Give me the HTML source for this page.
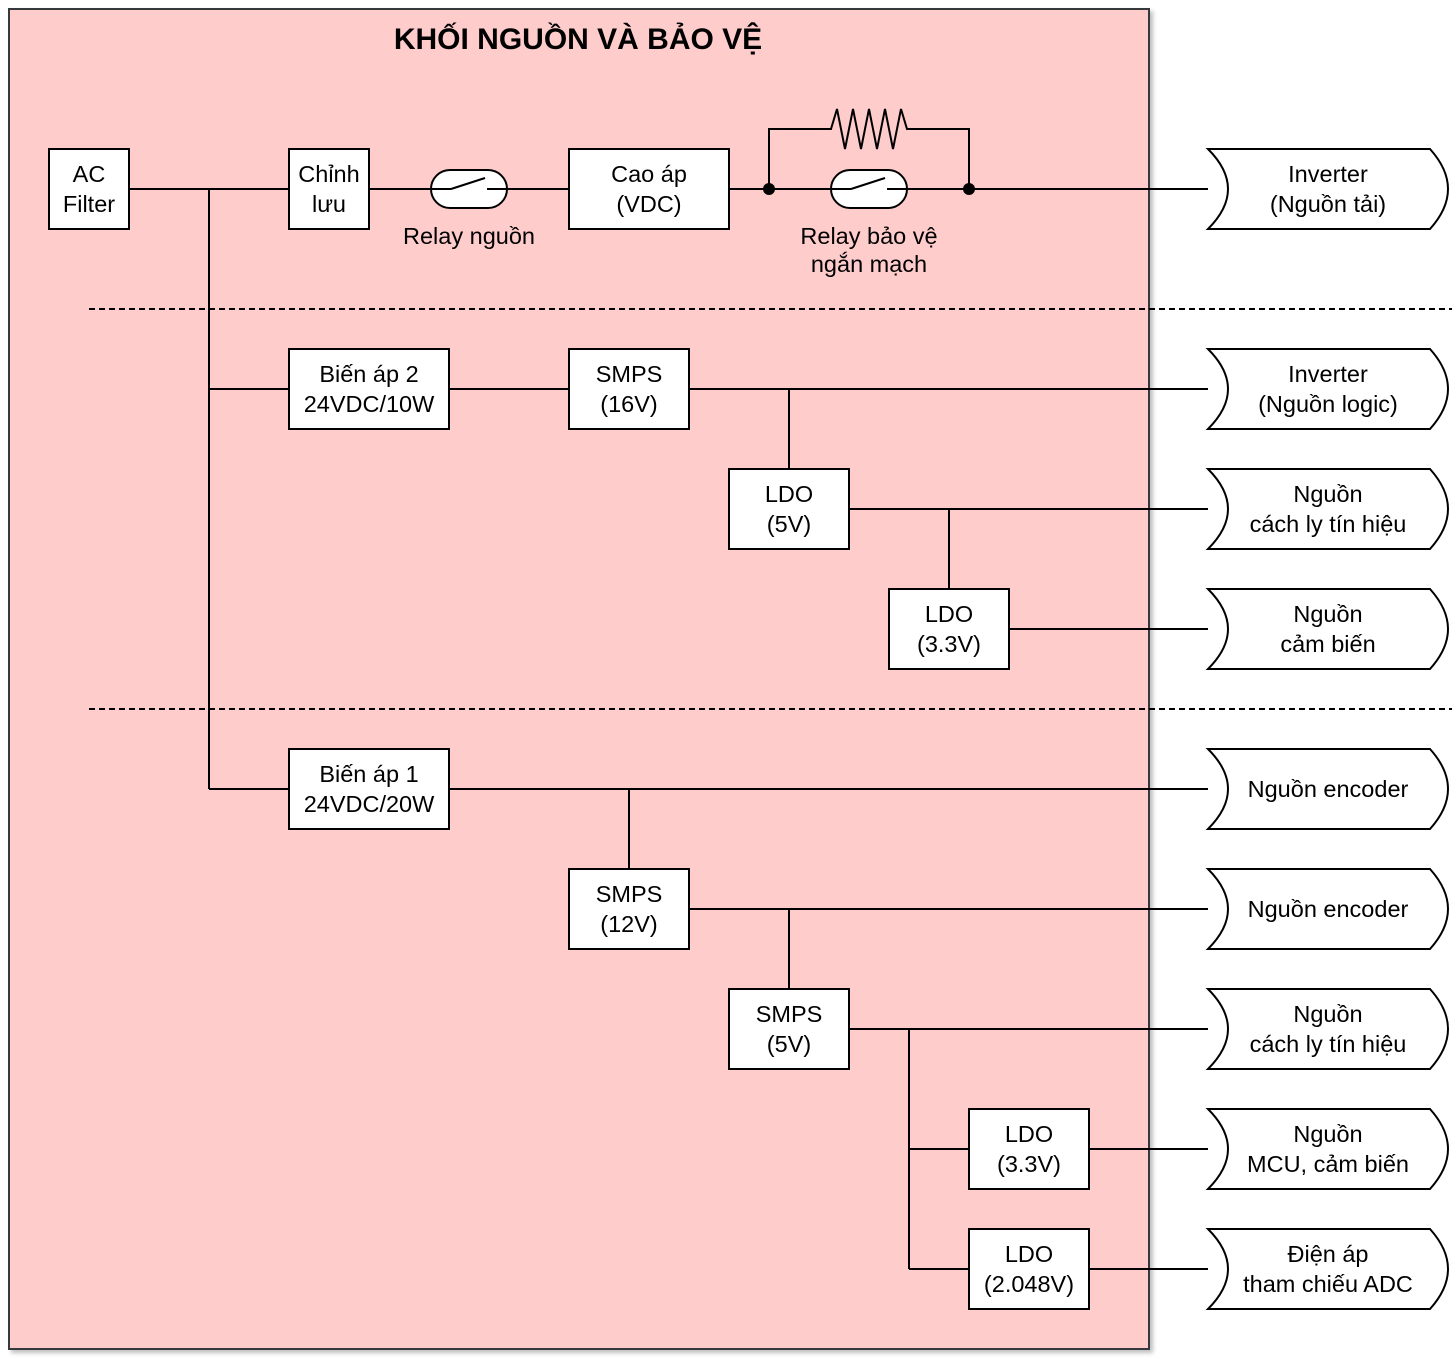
<!DOCTYPE html>
<html><head><meta charset="utf-8"><style>
html,body{margin:0;padding:0;background:#fff;}
svg text{font-family:"Liberation Sans",sans-serif;font-size:23.5px;fill:#000;}
</style></head><body>
<svg width="1452" height="1364" viewBox="0 0 1452 1364" xmlns="http://www.w3.org/2000/svg">
<defs><filter id="sh" x="-5%" y="-5%" width="110%" height="110%"><feDropShadow dx="3" dy="3" stdDeviation="2" flood-color="#000" flood-opacity="0.25"/></filter></defs>
<rect x="9" y="9" width="1140" height="1340" fill="#ffcccc" stroke="#36393d" stroke-width="2" filter="url(#sh)"/>
<text x="578" y="49" text-anchor="middle" style="font-size:30px;font-weight:bold">KHỐI NGUỒN VÀ BẢO VỆ</text>
<g stroke="#000" stroke-width="2" fill="none">
<line x1="89" y1="309" x2="1452" y2="309" stroke-dasharray="6,4"/>
<line x1="89" y1="709" x2="1452" y2="709" stroke-dasharray="6,4"/>
<line x1="129" y1="189" x2="289" y2="189"/>
<line x1="369" y1="189" x2="569" y2="189"/>
<line x1="729" y1="189" x2="1208" y2="189"/>
<polyline points="769,189 769,129 831,129 837,109 845,149 853,109 861,149 869,109 877,149 885,109 893,149 901,109 907,129 969,129 969,189"/>
<line x1="209" y1="189" x2="209" y2="789"/>
<line x1="209" y1="389" x2="289" y2="389"/>
<line x1="449" y1="389" x2="569" y2="389"/>
<line x1="689" y1="389" x2="1208" y2="389"/>
<line x1="789" y1="389" x2="789" y2="469"/>
<line x1="849" y1="509" x2="1208" y2="509"/>
<line x1="949" y1="509" x2="949" y2="589"/>
<line x1="1009" y1="629" x2="1208" y2="629"/>
<line x1="209" y1="789" x2="289" y2="789"/>
<line x1="449" y1="789" x2="1208" y2="789"/>
<line x1="629" y1="789" x2="629" y2="869"/>
<line x1="689" y1="909" x2="1208" y2="909"/>
<line x1="789" y1="909" x2="789" y2="989"/>
<line x1="849" y1="1029" x2="1208" y2="1029"/>
<line x1="909" y1="1029" x2="909" y2="1269"/>
<line x1="909" y1="1149" x2="969" y2="1149"/>
<line x1="909" y1="1269" x2="969" y2="1269"/>
<line x1="1089" y1="1149" x2="1208" y2="1149"/>
<line x1="1089" y1="1269" x2="1208" y2="1269"/>
</g>
<circle cx="769" cy="189" r="6" fill="#000"/>
<circle cx="969" cy="189" r="6" fill="#000"/>
<g stroke="#000" stroke-width="2">
<rect x="431" y="170" width="76" height="38" rx="19" fill="#fff"/>
<line x1="431" y1="189" x2="451" y2="189"/><line x1="451" y1="189" x2="485" y2="178"/><line x1="487" y1="189" x2="507" y2="189"/>
<rect x="831" y="170" width="76" height="38" rx="19" fill="#fff"/>
<line x1="831" y1="189" x2="851" y2="189"/><line x1="851" y1="189" x2="885" y2="178"/><line x1="887" y1="189" x2="907" y2="189"/>
</g>
<text x="469" y="244" text-anchor="middle">Relay nguồn</text>
<text x="869" y="244" text-anchor="middle">Relay bảo vệ</text>
<text x="869" y="272" text-anchor="middle">ngắn mạch</text>
<g fill="#fff" stroke="#000" stroke-width="2">
<rect x="49" y="149" width="80" height="80"/>
<rect x="289" y="149" width="80" height="80"/>
<rect x="569" y="149" width="160" height="80"/>
<rect x="289" y="349" width="160" height="80"/>
<rect x="569" y="349" width="120" height="80"/>
<rect x="729" y="469" width="120" height="80"/>
<rect x="889" y="589" width="120" height="80"/>
<rect x="289" y="749" width="160" height="80"/>
<rect x="569" y="869" width="120" height="80"/>
<rect x="729" y="989" width="120" height="80"/>
<rect x="969" y="1109" width="120" height="80"/>
<rect x="969" y="1229" width="120" height="80"/>
</g>
<g text-anchor="middle">
<text x="89" y="182">AC</text><text x="89" y="212">Filter</text>
<text x="329" y="182">Chỉnh</text><text x="329" y="212">lưu</text>
<text x="649" y="182">Cao áp</text><text x="649" y="212">(VDC)</text>
<text x="369" y="382">Biến áp 2</text><text x="369" y="412">24VDC/10W</text>
<text x="629" y="382">SMPS</text><text x="629" y="412">(16V)</text>
<text x="789" y="502">LDO</text><text x="789" y="532">(5V)</text>
<text x="949" y="622">LDO</text><text x="949" y="652">(3.3V)</text>
<text x="369" y="782">Biến áp 1</text><text x="369" y="812">24VDC/20W</text>
<text x="629" y="902">SMPS</text><text x="629" y="932">(12V)</text>
<text x="789" y="1022">SMPS</text><text x="789" y="1052">(5V)</text>
<text x="1029" y="1142">LDO</text><text x="1029" y="1172">(3.3V)</text>
<text x="1029" y="1262">LDO</text><text x="1029" y="1292">(2.048V)</text>
</g>
<g fill="#fff" stroke="#000" stroke-width="2">
<path id="o" d="M1208,149 L1430,149 Q1448,169 1448,189 Q1448,209 1430,229 L1208,229 Q1228,209 1228,189 Q1228,169 1208,149 Z"/>
<use href="#o" y="200"/><use href="#o" y="320"/><use href="#o" y="440"/><use href="#o" y="600"/><use href="#o" y="720"/><use href="#o" y="840"/><use href="#o" y="960"/><use href="#o" y="1080"/>
</g>
<g text-anchor="middle">
<text x="1328" y="182">Inverter</text><text x="1328" y="212">(Nguồn tải)</text>
<text x="1328" y="382">Inverter</text><text x="1328" y="412">(Nguồn logic)</text>
<text x="1328" y="502">Nguồn</text><text x="1328" y="532">cách ly tín hiệu</text>
<text x="1328" y="622">Nguồn</text><text x="1328" y="652">cảm biến</text>
<text x="1328" y="797">Nguồn encoder</text>
<text x="1328" y="917">Nguồn encoder</text>
<text x="1328" y="1022">Nguồn</text><text x="1328" y="1052">cách ly tín hiệu</text>
<text x="1328" y="1142">Nguồn</text><text x="1328" y="1172">MCU, cảm biến</text>
<text x="1328" y="1262">Điện áp</text><text x="1328" y="1292">tham chiếu ADC</text>
</g>
</svg>
</body></html>
